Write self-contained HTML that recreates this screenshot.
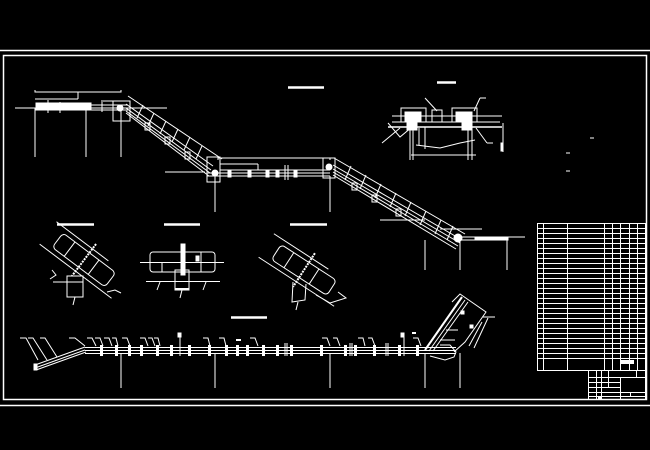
<!DOCTYPE html>
<html><head><meta charset="utf-8"><style>
html,body{margin:0;padding:0;background:#000;}
svg{display:block;}
</style></head><body>
<svg width="650" height="450" viewBox="0 0 650 450" xmlns="http://www.w3.org/2000/svg" fill="none" stroke="#fff" stroke-width="1" font-family="Liberation Sans, sans-serif">
<rect width="650" height="450" fill="#000" stroke="none"/>
<!-- frames -->
<line x1="0" y1="50.5" x2="650" y2="50.5" stroke-width="1.5"/>
<line x1="0" y1="405.5" x2="650" y2="405.5" stroke-width="1.5"/>
<rect x="3.5" y="55.5" width="643" height="344" stroke-width="1.5"/>

<!-- title bars -->
<g stroke-width="2.5">
<line x1="288" y1="87.5" x2="324" y2="87.5"/>
<line x1="437" y1="82.5" x2="456" y2="82.5"/>
<line x1="57" y1="224.5" x2="94" y2="224.5"/>
<line x1="164" y1="224.5" x2="200" y2="224.5"/>
<line x1="290" y1="224.5" x2="327" y2="224.5"/>
<line x1="231" y1="317.5" x2="267" y2="317.5"/>
</g>

<!-- TOP PROFILE -->
<g>
<!-- dims -->
<polyline points="35,90 35,92 121,92 121,90"/>
<line x1="78" y1="92" x2="78" y2="99"/>
<line x1="35" y1="99" x2="78" y2="99"/>
<line x1="103" y1="101" x2="121" y2="101"/>
<!-- centerline -->
<line x1="15" y1="108" x2="167" y2="108"/>
<!-- pipe -->
<rect x="36" y="103" width="55" height="7" fill="#fff"/>
<line x1="36" y1="105" x2="128" y2="105"/>
<line x1="36" y1="110" x2="128" y2="110"/>
<line x1="48" y1="100" x2="48" y2="113"/>
<line x1="60" y1="102" x2="60" y2="113"/>
<line x1="102" y1="100" x2="102" y2="112"/>
<rect x="113" y="101" width="17" height="20"/>
<circle cx="120" cy="108" r="3" fill="#fff"/>
<!-- verticals -->
<line x1="35" y1="108" x2="35" y2="157"/>
<line x1="86" y1="108" x2="86" y2="157"/>
<line x1="121" y1="108" x2="121" y2="157"/>
<!-- incline 1 -->
<line x1="128" y1="96" x2="222" y2="159"/>
<line x1="126" y1="104" x2="213" y2="166"/>
<line x1="126" y1="108" x2="211" y2="170"/>
<line x1="126" y1="111" x2="210" y2="173"/>
<line x1="126" y1="113" x2="209" y2="176"/>
<g stroke-width="1">
<line x1="137" y1="118" x2="143" y2="105"/>
<line x1="148" y1="126" x2="154" y2="113"/>
<line x1="160" y1="134" x2="166" y2="121"/>
<line x1="172" y1="142" x2="178" y2="129"/>
<line x1="184" y1="150" x2="190" y2="137"/>
<line x1="196" y1="159" x2="202" y2="146"/>
</g>
<rect x="145" y="123" width="5" height="7"/>
<rect x="165" y="137" width="5" height="7"/>
<rect x="185" y="152" width="5" height="7"/>
<!-- horizontal 2 -->
<line x1="165" y1="172" x2="205" y2="172"/>
<polyline points="218,160 218,158 330,158 330,160"/>
<line x1="220" y1="164" x2="258" y2="164"/>
<line x1="258" y1="164" x2="258" y2="170"/>
<line x1="220" y1="170" x2="330" y2="170"/>
<line x1="207" y1="173" x2="330" y2="173"/>
<line x1="207" y1="176" x2="330" y2="176"/>
<rect x="207" y="157" width="13" height="25"/>
<circle cx="215" cy="173" r="3" fill="#fff"/>
<g>
<rect x="228" y="170" width="3" height="7" fill="#fff"/>
<rect x="248" y="170" width="3" height="7" fill="#fff"/>
<rect x="266" y="170" width="3" height="7" fill="#fff"/>
<rect x="276" y="170" width="3" height="7" fill="#fff"/>
<rect x="294" y="170" width="3" height="7" fill="#fff"/>
<line x1="285" y1="165" x2="285" y2="180"/>
<line x1="288" y1="165" x2="288" y2="180"/>
</g>
<line x1="215" y1="176" x2="215" y2="212"/>
<line x1="330" y1="176" x2="330" y2="212"/>
<rect x="323" y="158" width="12" height="20"/>
<circle cx="329" cy="167" r="3" fill="#fff"/>
<!-- incline 2 -->
<line x1="334" y1="158" x2="465" y2="234"/>
<line x1="333" y1="165" x2="462" y2="240"/>
<line x1="333" y1="169" x2="460" y2="243"/>
<line x1="333" y1="172" x2="458" y2="246"/>
<line x1="333" y1="175" x2="456" y2="249"/>
<g>
<line x1="345" y1="180" x2="351" y2="166"/>
<line x1="360" y1="189" x2="366" y2="175"/>
<line x1="375" y1="198" x2="381" y2="184"/>
<line x1="390" y1="207" x2="396" y2="193"/>
<line x1="405" y1="216" x2="411" y2="202"/>
<line x1="420" y1="225" x2="426" y2="211"/>
<line x1="435" y1="234" x2="441" y2="220"/>
<line x1="447" y1="240" x2="453" y2="226"/>
</g>
<rect x="352" y="183" width="5" height="7"/>
<rect x="372" y="195" width="5" height="7"/>
<rect x="396" y="209" width="5" height="7"/>
<line x1="380" y1="220" x2="425" y2="220"/>
<line x1="440" y1="229" x2="482" y2="229"/>
<circle cx="458" cy="238" r="4" fill="#fff"/>
<line x1="462" y1="237" x2="525" y2="237"/>
<line x1="462" y1="240" x2="508" y2="240"/>
<rect x="475" y="237" width="33" height="3" fill="#fff"/>
<line x1="425" y1="240" x2="425" y2="270"/>
<line x1="460" y1="242" x2="460" y2="270"/>
<line x1="507" y1="240" x2="507" y2="270"/>
</g>

<!-- SECTION TOP RIGHT -->
<g>
<line x1="392" y1="116" x2="502" y2="116"/>
<line x1="392" y1="122" x2="500" y2="122"/>
<rect x="401" y="108" width="25" height="14"/>
<rect x="405" y="112" width="16" height="10" fill="#fff"/>
<rect x="452" y="108" width="25" height="14"/>
<rect x="456" y="112" width="16" height="10" fill="#fff"/>
<rect x="432" y="110" width="10" height="12"/>
<line x1="388" y1="127" x2="502" y2="127" stroke-width="1.5"/>
<rect x="407" y="122" width="10" height="8" fill="#fff"/>
<rect x="462" y="122" width="10" height="8" fill="#fff"/>
<line x1="410" y1="128" x2="410" y2="160"/>
<line x1="413" y1="128" x2="413" y2="160"/>
<line x1="419" y1="128" x2="419" y2="145"/>
<line x1="468" y1="128" x2="468" y2="160"/>
<line x1="472" y1="128" x2="472" y2="160"/>
<line x1="425" y1="127" x2="425" y2="149"/>
<polyline points="416,145 440,148 460,143 475,140"/>
<line x1="411" y1="155" x2="476" y2="155"/>
<line x1="503" y1="123" x2="503" y2="152"/>
<rect x="501" y="143" width="2" height="8" fill="#fff"/>
<polyline points="388,123 400,137 412,127"/>
<line x1="382" y1="143" x2="400" y2="128"/>
<line x1="425" y1="98" x2="437" y2="111"/>
<line x1="480" y1="98" x2="474" y2="111"/>
<line x1="480" y1="98" x2="486" y2="98"/>
<line x1="487" y1="143" x2="476" y2="128"/>
<line x1="487" y1="143" x2="493" y2="143"/>
<line x1="480" y1="122" x2="500" y2="122"/>
<line x1="590" y1="138" x2="594" y2="138"/>
<line x1="566" y1="153" x2="570" y2="153"/>
<line x1="566" y1="171" x2="570" y2="171"/>
</g>

<!-- DETAIL 1 -->
<g>
<g transform="translate(84,260) rotate(37)">
<rect x="-33" y="-9" width="66" height="18" rx="4"/>
<line x1="-45" y1="14" x2="45" y2="14"/>
<line x1="-45" y1="-14" x2="20" y2="-14"/>
<line x1="0" y1="-20" x2="0" y2="20" stroke-width="2" stroke-dasharray="2 1"/>
<line x1="12" y1="-9" x2="12" y2="9"/>
<line x1="-18" y1="-9" x2="-18" y2="9"/>
</g>
<rect x="67" y="276" width="16" height="21"/>
<line x1="53" y1="282" x2="83" y2="282"/>
<line x1="75" y1="297" x2="73" y2="305"/>
<polyline points="107,292 115,290 121,293"/>
<polyline points="52,270 56,275 50,279"/>
</g>
<!-- DETAIL 2 -->
<g>
<rect x="150" y="252" width="65" height="20" rx="3"/>
<line x1="140" y1="262.5" x2="224" y2="262.5"/>
<line x1="146" y1="281.5" x2="220" y2="281.5"/>
<rect x="181" y="244" width="4" height="31" fill="#fff"/>
<rect x="175" y="270" width="14" height="20"/>
<line x1="175" y1="289" x2="189" y2="289" stroke-width="2"/>
<line x1="182" y1="290" x2="180" y2="298"/>
<line x1="201" y1="252" x2="201" y2="272"/>
<rect x="196" y="256" width="3" height="5" fill="#fff"/>
<line x1="160" y1="282" x2="157" y2="290"/>
<line x1="206" y1="282" x2="203" y2="290"/>
<line x1="162" y1="262" x2="162" y2="272"/>
</g>
<!-- DETAIL 3 -->
<g>
<g transform="translate(304,270) rotate(33)">
<rect x="-33" y="-9" width="66" height="18" rx="4"/>
<line x1="-45" y1="14" x2="45" y2="14"/>
<line x1="-45" y1="-14" x2="20" y2="-14"/>
<line x1="0" y1="-20" x2="0" y2="20" stroke-width="2" stroke-dasharray="2 1"/>
<line x1="12" y1="-9" x2="12" y2="9"/>
<line x1="-18" y1="-9" x2="-18" y2="9"/>
</g>
<polyline points="293,282 292,302 305,300 306,284"/>
<line x1="298" y1="302" x2="296" y2="310"/>
<polyline points="316,295 325,300 330,303"/>
<polyline points="330,303 346,298 338,292"/>
</g>

<!-- BOTTOM LONG CONVEYOR -->
<g>
<line x1="35" y1="365" x2="85" y2="347"/>
<line x1="35" y1="368" x2="85" y2="350"/>
<line x1="36" y1="370" x2="86" y2="352"/>
<line x1="85" y1="347.5" x2="456" y2="347.5"/>
<line x1="85" y1="350.5" x2="456" y2="350.5"/>
<line x1="85" y1="353.5" x2="456" y2="353.5"/>
<rect x="34" y="364" width="3" height="6" fill="#fff"/>
<g fill="#fff" stroke="none">
<rect x="100" y="345" width="3" height="11"/><rect x="115" y="345" width="3" height="11"/><rect x="128" y="345" width="3" height="11"/>
<rect x="140" y="345" width="3" height="11"/><rect x="156" y="345" width="3" height="11"/><rect x="170" y="345" width="3" height="11"/>
<rect x="188" y="345" width="3" height="11"/><rect x="208" y="345" width="3" height="11"/><rect x="225" y="345" width="3" height="11"/>
<rect x="236" y="345" width="3" height="11"/><rect x="246" y="345" width="3" height="11"/><rect x="262" y="345" width="3" height="11"/>
<rect x="276" y="345" width="3" height="11"/><rect x="290" y="345" width="3" height="11"/><rect x="320" y="345" width="3" height="11"/>
<rect x="344" y="345" width="3" height="11"/><rect x="354" y="345" width="3" height="11"/><rect x="373" y="345" width="3" height="11"/>
<rect x="398" y="345" width="3" height="11"/><rect x="416" y="345" width="3" height="11"/>
</g>
<g>
<line x1="180" y1="333" x2="180" y2="356"/><rect x="178" y="333" width="3" height="4" fill="#fff"/>
<line x1="404" y1="333" x2="404" y2="356"/><rect x="401" y="333" width="3" height="4" fill="#fff"/>
<line x1="285" y1="343" x2="285" y2="356"/><line x1="287" y1="343" x2="287" y2="356"/>
<line x1="350" y1="343" x2="350" y2="356"/><line x1="352" y1="343" x2="352" y2="356"/>
<line x1="386" y1="343" x2="386" y2="356"/><line x1="388" y1="343" x2="388" y2="356"/>
</g>
<g>
<polyline points="20,338 26,338 38,360"/>
<polyline points="28,338 33,338 47,360"/>
<polyline points="40,338 45,338 57,357"/>
<polyline points="69,338 75,338 85,346"/>
<polyline points="87,338 92,338 96,346"/>
<polyline points="95,338 100,338 103,346"/>
<polyline points="104,338 109,338 112,346"/>
<polyline points="112,338 116,338 118,346"/>
<polyline points="122,338 127,338 130,346"/>
<polyline points="140,338 145,338 148,346"/>
<polyline points="148,338 152,338 155,346"/>
<polyline points="154,338 158,338 160,346"/>
<polyline points="203,338 208,338 210,346"/>
<polyline points="219,338 224,338 226,346"/>
<polyline points="250,338 255,338 258,346"/>
<polyline points="322,338 327,338 330,346"/>
<polyline points="333,338 337,338 340,346"/>
<polyline points="358,338 363,338 365,346"/>
<polyline points="368,338 372,338 375,346"/>
<polyline points="413,338 418,338 421,346"/>
<line x1="236" y1="340" x2="241" y2="340" stroke-width="2"/>
<line x1="412" y1="333" x2="416" y2="333" stroke-width="2"/>
</g>
<line x1="121" y1="353" x2="121" y2="388"/>
<line x1="215" y1="353" x2="215" y2="388"/>
<line x1="330" y1="353" x2="330" y2="388"/>
<line x1="425" y1="353" x2="425" y2="388"/>
<line x1="460" y1="353" x2="460" y2="388"/>
<!-- incline -->
<line x1="425" y1="350" x2="462" y2="297" stroke-width="2"/>
<line x1="429" y1="351" x2="465" y2="300"/>
<line x1="433" y1="351" x2="468" y2="302"/>
<polyline points="452,302 460,294 486,312 465,342 454,352"/>
<line x1="440" y1="340" x2="455" y2="340"/>
<line x1="446" y1="330" x2="458" y2="330"/>
<line x1="482" y1="322" x2="469" y2="346"/>
<line x1="488" y1="318" x2="474" y2="348"/>
<line x1="483" y1="317" x2="495" y2="317"/>
<polyline points="440,345 450,345 456,352 454,357 445,360 430,356"/>
<rect x="461" y="311" width="3" height="3" fill="#fff"/>
<rect x="470" y="325" width="3" height="3" fill="#fff"/>
</g>

<!-- TABLE -->
<g stroke-width="1">
<rect x="537.5" y="223.5" width="108" height="147"/>
<line x1="567.5" y1="223" x2="567.5" y2="370"/>
<line x1="604.5" y1="223" x2="604.5" y2="370"/>
<line x1="612.5" y1="223" x2="612.5" y2="370"/>
<line x1="620.5" y1="223" x2="620.5" y2="370"/>
<line x1="629.5" y1="223" x2="629.5" y2="370"/>
<line x1="637.5" y1="223" x2="637.5" y2="370"/>
<line x1="543.5" y1="223" x2="543.5" y2="370"/>
</g>
<g id="rows" stroke-width="1">
<line x1="537" y1="228.5" x2="646" y2="228.5"/><line x1="537" y1="233.5" x2="646" y2="233.5"/>
<line x1="537" y1="238.5" x2="646" y2="238.5"/><line x1="537" y1="243.5" x2="646" y2="243.5"/>
<line x1="537" y1="248.5" x2="646" y2="248.5"/><line x1="537" y1="253.5" x2="646" y2="253.5"/>
<line x1="537" y1="258.5" x2="646" y2="258.5"/><line x1="537" y1="263.5" x2="646" y2="263.5"/>
<line x1="537" y1="268.5" x2="646" y2="268.5"/><line x1="537" y1="273.5" x2="646" y2="273.5"/>
<line x1="537" y1="278.5" x2="646" y2="278.5"/><line x1="537" y1="283.5" x2="646" y2="283.5"/>
<line x1="537" y1="288.5" x2="646" y2="288.5"/><line x1="537" y1="293.5" x2="646" y2="293.5"/>
<line x1="537" y1="298.5" x2="646" y2="298.5"/><line x1="537" y1="303.5" x2="646" y2="303.5"/>
<line x1="537" y1="308.5" x2="646" y2="308.5"/><line x1="537" y1="313.5" x2="646" y2="313.5"/>
<line x1="537" y1="318.5" x2="646" y2="318.5"/><line x1="537" y1="323.5" x2="646" y2="323.5"/>
<line x1="537" y1="328.5" x2="646" y2="328.5"/><line x1="537" y1="333.5" x2="646" y2="333.5"/>
<line x1="537" y1="338.5" x2="646" y2="338.5"/><line x1="537" y1="343.5" x2="646" y2="343.5"/>
<line x1="537" y1="348.5" x2="646" y2="348.5"/><line x1="537" y1="353.5" x2="646" y2="353.5"/>
<line x1="537" y1="358.5" x2="646" y2="358.5"/>
</g>
<rect x="620" y="360" width="14" height="4" fill="#fff" stroke="none"/>
<!-- title block -->
<g>
<rect x="588.5" y="370.5" width="57" height="29"/>
<line x1="588" y1="377.5" x2="646" y2="377.5"/>
<line x1="588" y1="382.5" x2="620" y2="382.5"/>
<line x1="588" y1="387.5" x2="620" y2="387.5"/>
<line x1="588" y1="392.5" x2="646" y2="392.5"/>
<line x1="588" y1="396.5" x2="646" y2="396.5"/>
<line x1="596.5" y1="370" x2="596.5" y2="400"/>
<line x1="601.5" y1="370" x2="601.5" y2="400"/>
<line x1="608.5" y1="370" x2="608.5" y2="387"/>
<line x1="620.5" y1="377" x2="620.5" y2="400"/>
<line x1="636.5" y1="370" x2="636.5" y2="377"/>
<line x1="630.5" y1="392" x2="630.5" y2="397"/>
<rect x="598" y="396" width="4" height="3" fill="#fff" stroke="none"/>
</g>
</svg>
</body></html>
